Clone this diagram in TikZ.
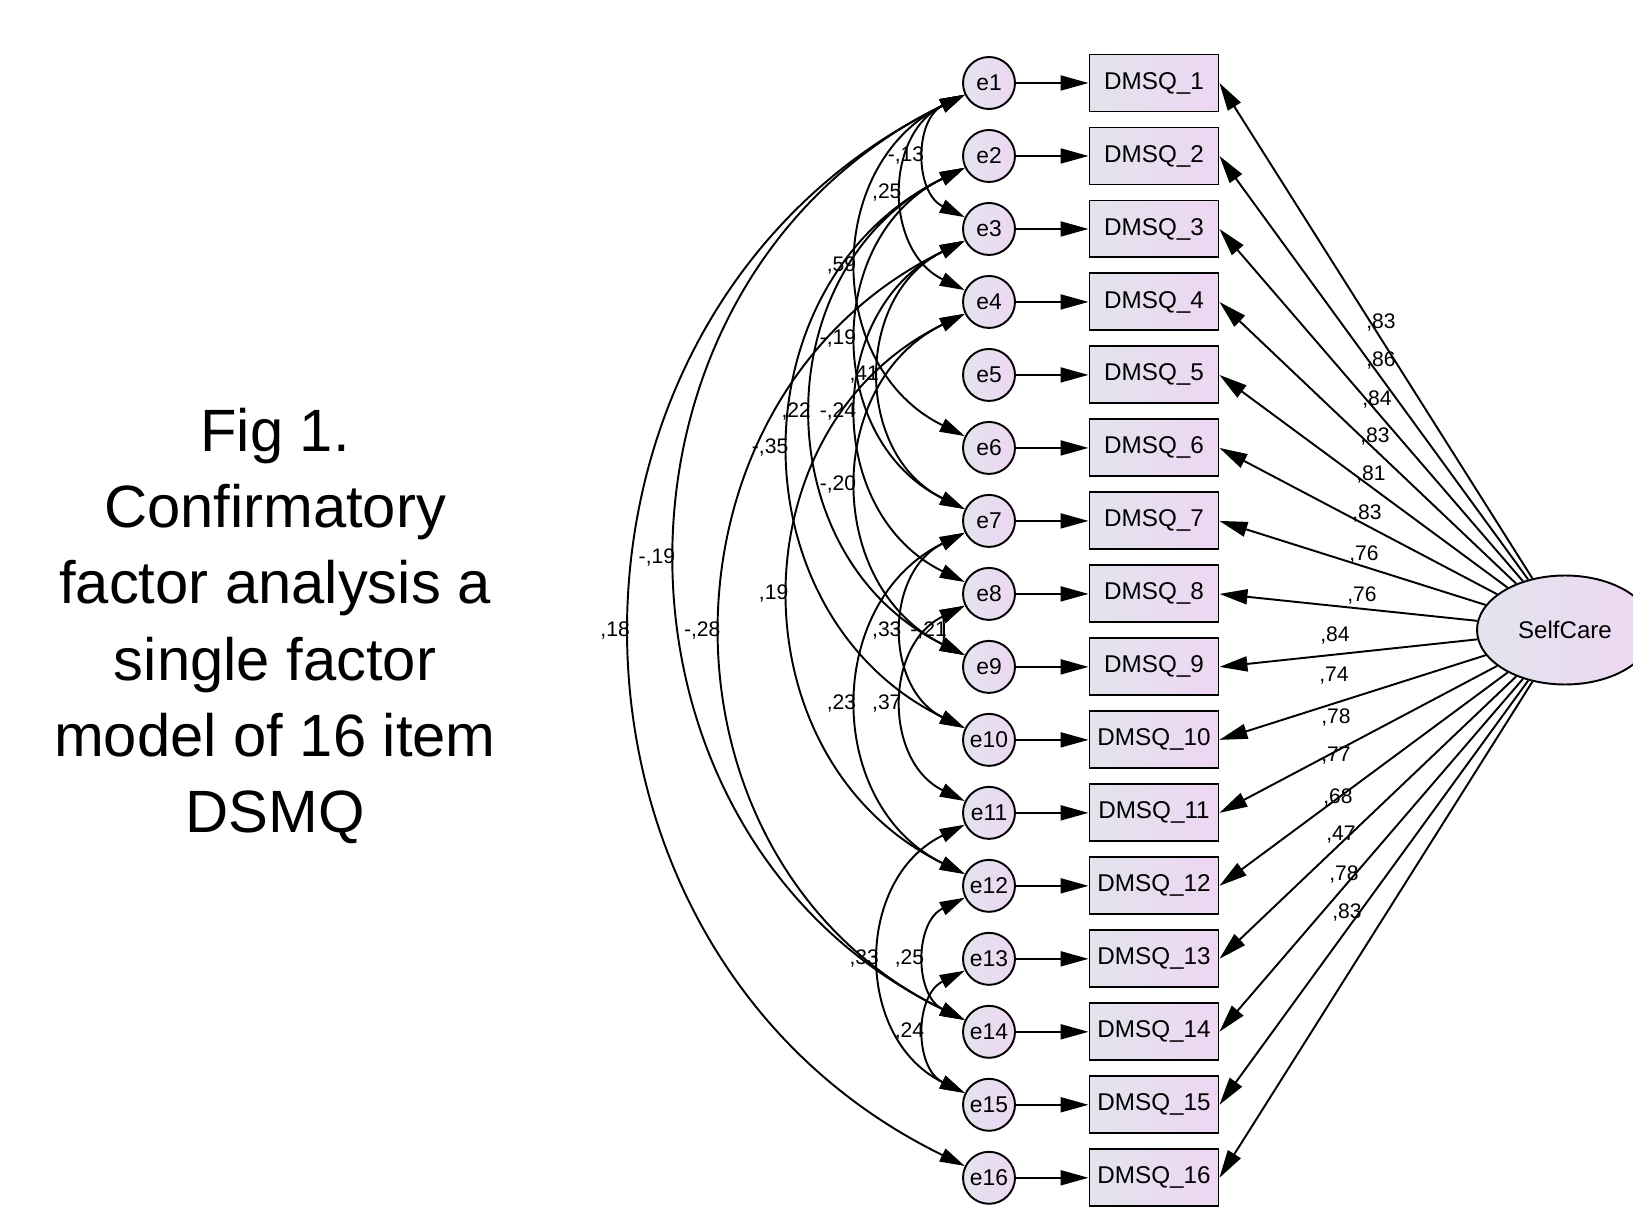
\documentclass[tikz,border=0pt]{standalone}
\usepackage{fontspec}
\setmainfont{Liberation Sans}
\usetikzlibrary{shapes.geometric, arrows.meta, positioning}
\definecolor{amosleft}{RGB}{226,228,237}
\definecolor{amosright}{RGB}{238,214,242}
\tikzstyle{errvar} = [circle, minimum size=1.04cm, inner sep=0pt, text centered, draw=black, line width=1.1pt, left color=amosleft, right color=amosright, font=\fontsize{13}{15}\selectfont]
\tikzstyle{indicator} = [rectangle, minimum width=2.58cm, minimum height=1.14cm, text centered, draw=black, line width=1.1pt, left color=amosleft, right color=amosright, font=\fontsize{13.8}{16}\selectfont]
\tikzstyle{factor} = [ellipse, minimum width=3.52cm, minimum height=2.18cm, text centered, draw=black, line width=1.1pt, left color=amosleft, right color=amosright, font=\fontsize{13.7}{16}\selectfont]
\tikzstyle{arrow} = [line width=1.1pt, ->, >={Triangle[length=0.56cm, width=0.3cm]}]
\tikzstyle{cov} = [line width=1.1pt, <->, >={Triangle[length=0.5cm, width=0.28cm]}, out=206, in=154, looseness=1.18]
\tikzstyle{coef} = [font=\fontsize{12}{14}\selectfont, inner sep=1pt]
\tikzstyle{covlab} = [coef, anchor=east]

\begin{document}
\begin{tikzpicture}[x=0.02cm, y=-0.02cm, node distance=1.46cm]
	\useasboundingbox (0,0) rectangle (1633,1216);
	\node (title) [align=center, font=\fontsize{34}{43.3}\selectfont] at (275,626) {Fig 1.\\Confirmatory\\factor analysis a\\single factor\\model of 16 item\\DSMQ};
	% error terms
	\node (e1) [errvar] at (989,83) {e1};
	\node (e2) [errvar, below of=e1] {e2};
	\node (e3) [errvar, below of=e2] {e3};
	\node (e4) [errvar, below of=e3] {e4};
	\node (e5) [errvar, below of=e4] {e5};
	\node (e6) [errvar, below of=e5] {e6};
	\node (e7) [errvar, below of=e6] {e7};
	\node (e8) [errvar, below of=e7] {e8};
	\node (e9) [errvar, below of=e8] {e9};
	\node (e10) [errvar, below of=e9] {e10};
	\node (e11) [errvar, below of=e10] {e11};
	\node (e12) [errvar, below of=e11] {e12};
	\node (e13) [errvar, below of=e12] {e13};
	\node (e14) [errvar, below of=e13] {e14};
	\node (e15) [errvar, below of=e14] {e15};
	\node (e16) [errvar, below of=e15] {e16};
	% items
	\node (d1) [indicator, node distance=3.3cm, right of=e1] {DMSQ\_1};
	\node (d2) [indicator, node distance=3.3cm, right of=e2] {DMSQ\_2};
	\node (d3) [indicator, node distance=3.3cm, right of=e3] {DMSQ\_3};
	\node (d4) [indicator, node distance=3.3cm, right of=e4] {DMSQ\_4};
	\node (d5) [indicator, node distance=3.3cm, right of=e5] {DMSQ\_5};
	\node (d6) [indicator, node distance=3.3cm, right of=e6] {DMSQ\_6};
	\node (d7) [indicator, node distance=3.3cm, right of=e7] {DMSQ\_7};
	\node (d8) [indicator, node distance=3.3cm, right of=e8] {DMSQ\_8};
	\node (d9) [indicator, node distance=3.3cm, right of=e9] {DMSQ\_9};
	\node (d10) [indicator, node distance=3.3cm, right of=e10] {DMSQ\_10};
	\node (d11) [indicator, node distance=3.3cm, right of=e11] {DMSQ\_11};
	\node (d12) [indicator, node distance=3.3cm, right of=e12] {DMSQ\_12};
	\node (d13) [indicator, node distance=3.3cm, right of=e13] {DMSQ\_13};
	\node (d14) [indicator, node distance=3.3cm, right of=e14] {DMSQ\_14};
	\node (d15) [indicator, node distance=3.3cm, right of=e15] {DMSQ\_15};
	\node (d16) [indicator, node distance=3.3cm, right of=e16] {DMSQ\_16};
	\node (sc) [factor] at (1565,630) {SelfCare};
	% error paths
	\draw [arrow] (e1) -- (d1);
	\draw [arrow] (e2) -- (d2);
	\draw [arrow] (e3) -- (d3);
	\draw [arrow] (e4) -- (d4);
	\draw [arrow] (e5) -- (d5);
	\draw [arrow] (e6) -- (d6);
	\draw [arrow] (e7) -- (d7);
	\draw [arrow] (e8) -- (d8);
	\draw [arrow] (e9) -- (d9);
	\draw [arrow] (e10) -- (d10);
	\draw [arrow] (e11) -- (d11);
	\draw [arrow] (e12) -- (d12);
	\draw [arrow] (e13) -- (d13);
	\draw [arrow] (e14) -- (d14);
	\draw [arrow] (e15) -- (d15);
	\draw [arrow] (e16) -- (d16);
	% loadings
	\draw [arrow] (sc) -- (d1.east);
	\draw [arrow] (sc) -- (d2.east);
	\draw [arrow] (sc) -- (d3.east);
	\draw [arrow] (sc) -- (d4.east);
	\draw [arrow] (sc) -- (d5.east);
	\draw [arrow] (sc) -- (d6.east);
	\draw [arrow] (sc) -- (d7.east);
	\draw [arrow] (sc) -- (d8.east);
	\draw [arrow] (sc) -- (d9.east);
	\draw [arrow] (sc) -- (d10.east);
	\draw [arrow] (sc) -- (d11.east);
	\draw [arrow] (sc) -- (d12.east);
	\draw [arrow] (sc) -- (d13.east);
	\draw [arrow] (sc) -- (d14.east);
	\draw [arrow] (sc) -- (d15.east);
	\draw [arrow] (sc) -- (d16.east);
	\node (w1) [coef] at (1381,322) {,83};
	\node (w2) [coef] at (1381,360) {,86};
	\node (w3) [coef] at (1377,399) {,84};
	\node (w4) [coef] at (1375,436) {,83};
	\node (w5) [coef] at (1371,474) {,81};
	\node (w6) [coef] at (1367,513) {,83};
	\node (w7) [coef] at (1364,554) {,76};
	\node (w8) [coef] at (1362,595) {,76};
	\node (w9) [coef] at (1335,635) {,84};
	\node (w10) [coef] at (1334,676) {,74};
	\node (w11) [coef] at (1336,717) {,78};
	\node (w12) [coef] at (1336,756) {,77};
	\node (w13) [coef] at (1338,797) {,68};
	\node (w14) [coef] at (1341,835) {,47};
	\node (w15) [coef] at (1344,874) {,78};
	\node (w16) [coef] at (1347,912) {,83};
	% covariances
	\draw [cov] (e1) to node[covlab] (r1) {-,13} (e3);
	\draw [cov] (e1) to node[covlab] (r2) {,25} (e4);
	\draw [cov] (e1) to node[covlab] (r3) {,59} (e6);
	\draw [cov] (e2) to node[covlab] (r4) {-,19} (e7);
	\draw [cov] (e3) to node[covlab] (r5) {,41} (e7);
	\draw [cov] (e2) to node[covlab] (r6) {,22} (e9);
	\draw [cov] (e3) to node[covlab] (r7) {-,24} (e8);
	\draw [cov] (e2) to node[covlab] (r8) {-,35} (e10);
	\draw [cov] (e4) to node[covlab] (r9) {-,20} (e9);
	\draw [cov] (e1) to node[covlab] (r10) {-,19} (e14);
	\draw [cov] (e4) to node[covlab] (r11) {,19} (e12);
	\draw [cov] (e1) to node[covlab] (r12) {,18} (e16);
	\draw [cov] (e3) to node[covlab] (r13) {-,28} (e14);
	\draw [cov] (e7) to node[covlab] (r14) {,33} (e10);
	\draw [cov] (e8) to node[covlab] (r15) {-,21} (e9);
	\draw [cov] (e7) to node[covlab] (r16) {,23} (e12);
	\draw [cov] (e8) to node[covlab] (r17) {,37} (e11);
	\draw [cov] (e11) to node[covlab] (r18) {,33} (e15);
	\draw [cov] (e12) to node[covlab] (r19) {,25} (e14);
	\draw [cov] (e13) to node[covlab] (r20) {,24} (e15);
\end{tikzpicture}
\end{document}
